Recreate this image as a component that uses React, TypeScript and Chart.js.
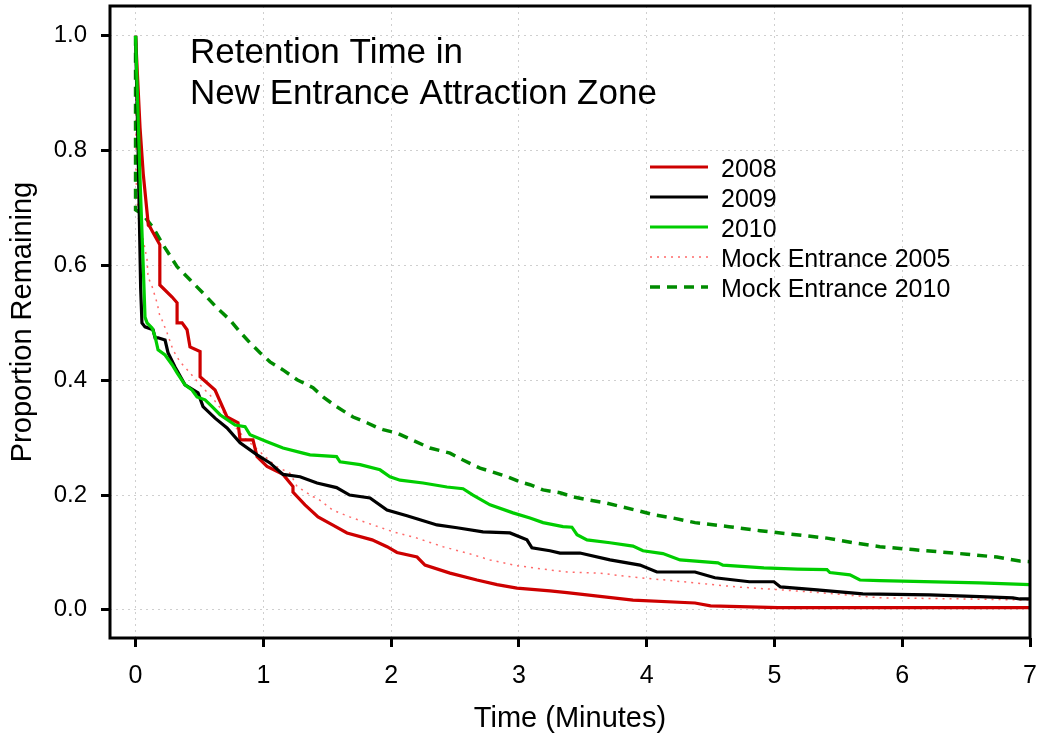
import React, { useEffect, useRef } from "react";
import { Chart, registerables } from "chart.js";

Chart.register(...registerables);

// ---- Data ----
const X_TICKS = [0, 1, 2, 3, 4, 5, 6, 7];
const Y_TICKS = [0, 0.2, 0.4, 0.6, 0.8, 1.0];
const TITLE_LINES = ["Retention Time in", "New Entrance Attraction Zone"];
const SERIES_LABELS = ["2008", "2009", "2010", "Mock Entrance 2005", "Mock Entrance 2010"];

const T_2008 = [0, 0.035, 0.06, 0.1, 0.113, 0.13, 0.19, 0.19, 0.286, 0.325, 0.325, 0.364, 0.403, 0.426, 0.505, 0.505, 0.622, 0.716, 0.802, 0.818, 0.919, 0.951, 1.029, 1.154, 1.232, 1.232, 1.326, 1.428, 1.541, 1.655, 1.851, 1.968, 2.046, 2.203, 2.265, 2.461, 2.672, 2.829, 2.985, 3.243, 3.376, 3.893, 4.378, 4.5, 5.03, 7];
const P_2008 = [1.0, 0.84, 0.76, 0.67, 0.667, 0.66, 0.636, 0.566, 0.545, 0.535, 0.5, 0.5, 0.488, 0.458, 0.45, 0.406, 0.383, 0.336, 0.326, 0.296, 0.296, 0.267, 0.25, 0.236, 0.215, 0.205, 0.183, 0.162, 0.148, 0.134, 0.122, 0.11, 0.1, 0.092, 0.078, 0.064, 0.052, 0.044, 0.038, 0.033, 0.03, 0.017, 0.012, 0.007, 0.004, 0.004];

const T_2009 = [0, 0.02, 0.04, 0.05, 0.074, 0.137, 0.153, 0.176, 0.231, 0.254, 0.309, 0.387, 0.489, 0.528, 0.622, 0.716, 0.818, 0.951, 1.052, 1.154, 1.287, 1.42, 1.573, 1.675, 1.835, 1.968, 2.124, 2.226, 2.359, 2.516, 2.719, 2.93, 3.063, 3.102, 3.243, 3.322, 3.478, 3.713, 3.948, 4.08, 4.378, 4.534, 4.804, 4.996, 5.047, 5.333, 5.692, 6.216, 6.608, 6.866, 6.92, 7];
const P_2009 = [1.0, 0.8, 0.56, 0.5, 0.493, 0.488, 0.474, 0.474, 0.47, 0.448, 0.423, 0.392, 0.378, 0.354, 0.334, 0.317, 0.291, 0.27, 0.256, 0.236, 0.232, 0.221, 0.213, 0.2, 0.195, 0.174, 0.164, 0.157, 0.148, 0.143, 0.136, 0.134, 0.122, 0.108, 0.103, 0.099, 0.099, 0.087, 0.078, 0.066, 0.066, 0.056, 0.049, 0.049, 0.04, 0.035, 0.028, 0.026, 0.023, 0.021, 0.019, 0.019];

const T_2010 = [0, 0.035, 0.06, 0.074, 0.09, 0.13, 0.153, 0.176, 0.231, 0.286, 0.325, 0.387, 0.442, 0.481, 0.544, 0.599, 0.661, 0.779, 0.857, 0.896, 1.029, 1.154, 1.311, 1.365, 1.573, 1.6, 1.757, 1.913, 1.991, 2.07, 2.25, 2.437, 2.563, 2.641, 2.774, 2.954, 3.087, 3.189, 3.345, 3.415, 3.455, 3.533, 3.713, 3.893, 3.971, 4.127, 4.261, 4.558, 4.597, 4.917, 5.18, 5.411, 5.434, 5.591, 5.669, 5.825, 6.608, 7];
const P_2010 = [1.0, 0.75, 0.6, 0.51, 0.5, 0.491, 0.476, 0.453, 0.444, 0.427, 0.413, 0.392, 0.383, 0.371, 0.366, 0.354, 0.34, 0.322, 0.319, 0.305, 0.293, 0.282, 0.273, 0.27, 0.267, 0.258, 0.253, 0.244, 0.232, 0.226, 0.221, 0.214, 0.211, 0.2, 0.183, 0.169, 0.16, 0.152, 0.145, 0.144, 0.131, 0.122, 0.117, 0.111, 0.103, 0.098, 0.087, 0.082, 0.078, 0.073, 0.071, 0.07, 0.065, 0.061, 0.052, 0.051, 0.047, 0.044];

const T_MOCK2005 = [0, 0.004, 0.02, 0.06, 0.09, 0.098, 0.13, 0.168, 0.192, 0.207, 0.246, 0.293, 0.348, 0.426, 0.505, 0.6, 0.739, 0.85, 1.0, 1.1, 1.209, 1.264, 1.389, 1.42, 1.541, 1.675, 1.858, 2.015, 2.203, 2.406, 2.594, 2.774, 2.985, 3.189, 3.376, 3.635, 3.893, 4.049, 4.378, 4.703, 5.047, 5.356, 5.825, 6.506, 7];
const P_MOCK2005 = [1.0, 0.75, 0.685, 0.645, 0.61, 0.58, 0.563, 0.535, 0.51, 0.505, 0.483, 0.453, 0.432, 0.413, 0.392, 0.37, 0.33, 0.3, 0.27, 0.25, 0.238, 0.215, 0.197, 0.195, 0.174, 0.162, 0.148, 0.136, 0.125, 0.11, 0.099, 0.087, 0.077, 0.071, 0.066, 0.064, 0.057, 0.054, 0.047, 0.04, 0.035, 0.03, 0.021, 0.019, 0.017];

const T_MOCK2010 = [0, 0, 0.06, 0.137, 0.192, 0.215, 0.325, 0.426, 0.528, 0.638, 0.739, 0.818, 0.896, 0.974, 1.052, 1.154, 1.264, 1.389, 1.467, 1.573, 1.702, 1.811, 1.898, 1.937, 2.046, 2.124, 2.304, 2.461, 2.563, 2.696, 2.797, 2.907, 3.009, 3.087, 3.189, 3.322, 3.423, 3.533, 3.689, 3.815, 3.948, 4.049, 4.206, 4.378, 4.644, 4.886, 5.047, 5.411, 5.614, 5.825, 6.083, 6.295, 6.506, 6.741, 6.92, 7];
const P_MOCK2010 = [1.0, 0.697, 0.688, 0.666, 0.645, 0.636, 0.598, 0.575, 0.552, 0.526, 0.505, 0.484, 0.465, 0.448, 0.432, 0.418, 0.401, 0.387, 0.371, 0.354, 0.336, 0.326, 0.317, 0.314, 0.308, 0.3, 0.282, 0.273, 0.261, 0.247, 0.24, 0.232, 0.223, 0.218, 0.209, 0.204, 0.197, 0.192, 0.186, 0.179, 0.172, 0.166, 0.16, 0.152, 0.145, 0.138, 0.134, 0.125, 0.117, 0.11, 0.105, 0.101, 0.097, 0.092, 0.085, 0.084];

const FONT = "'Liberation Sans', Arial, Helvetica, sans-serif";

const toPoints = (t: number[], p: number[]) => t.map((x, i) => ({ x, y: p[i] }));

const framePlugin = {
  id: "frameAndAnnotations",
  afterDatasetsDraw(chart: any) {
    const { ctx, chartArea } = chart;
    ctx.save();
    ctx.strokeStyle = "#000";
    ctx.lineWidth = 3;
    ctx.setLineDash([]);
    ctx.strokeRect(chartArea.left, chartArea.top, chartArea.right - chartArea.left, chartArea.bottom - chartArea.top);
    ctx.restore();
  },
  afterDraw(chart: any) {
    const { ctx } = chart;
    ctx.save();
    // title inside plot
    ctx.fillStyle = "#000";
    ctx.font = `35px ${FONT}`;
    ctx.textAlign = "left";
    ctx.textBaseline = "alphabetic";
    ctx.fillText(TITLE_LINES[0], 190, 63);
    ctx.fillText(TITLE_LINES[1], 190, 104);
    // legend
    ctx.font = `25px ${FONT}`;
    chart.data.datasets.forEach((ds: any, i: number) => {
      const base = 177 + i * 30;
      const ly = base - 10;
      ctx.save();
      ctx.strokeStyle = ds.borderColor;
      ctx.lineWidth = ds.borderWidth;
      ctx.setLineDash(ds.borderDash || []);
      ctx.beginPath();
      ctx.moveTo(650, ly);
      ctx.lineTo(708, ly);
      ctx.stroke();
      ctx.restore();
      ctx.fillStyle = "#000";
      ctx.fillText(ds.label, 721, base);
    });
    ctx.restore();
  },
};

export default function App() {
  const canvasRef = useRef<HTMLCanvasElement | null>(null);

  useEffect(() => {
    const canvas = canvasRef.current;
    if (!canvas) return;
    const datasets = [
      { label: SERIES_LABELS[0], data: toPoints(T_2008, P_2008), borderColor: "#CD0000", borderWidth: 3.2, borderDash: [], order: 3 },
      { label: SERIES_LABELS[1], data: toPoints(T_2009, P_2009), borderColor: "#000000", borderWidth: 3.2, borderDash: [], order: 2 },
      { label: SERIES_LABELS[2], data: toPoints(T_2010, P_2010), borderColor: "#00CD00", borderWidth: 3.2, borderDash: [], order: 1 },
      { label: SERIES_LABELS[3], data: toPoints(T_MOCK2005, P_MOCK2005), borderColor: "#FF6A6A", borderWidth: 1.5, borderDash: [2, 5], order: 5 },
      { label: SERIES_LABELS[4], data: toPoints(T_MOCK2010, P_MOCK2010), borderColor: "#008B00", borderWidth: 3.5, borderDash: [10, 7], order: 4 },
    ].map((d) => ({ ...d, pointRadius: 0, pointHoverRadius: 0, tension: 0, fill: false, backgroundColor: d.borderColor }));

    const chart = new Chart(canvas, {
      type: "line",
      data: { datasets: datasets as any },
      plugins: [framePlugin],
      options: {
        animation: false,
        responsive: false,
        devicePixelRatio: 1,
        events: [],
        layout: { padding: { top: 6, right: 9, bottom: 0, left: 0 } },
        plugins: { legend: { display: false }, tooltip: { enabled: false }, title: { display: false } },
        scales: {
          x: {
            type: "linear",
            min: -0.2,
            max: 7,
            afterBuildTicks: (scale: any) => {
              scale.ticks = X_TICKS.map((v) => ({ value: v }));
            },
            afterFit: (scale: any) => {
              scale.height = 100;
              scale.paddingLeft = 0;
              scale.paddingRight = 0;
              scale.paddingTop = 0;
              scale.paddingBottom = 0;
            },
            border: { display: false, dash: [2, 4] },
            grid: {
              color: "#cfcfcf",
              lineWidth: 1,
              drawTicks: true,
              tickLength: 9,
              tickWidth: 3,
              tickColor: "#000",
              tickBorderDash: [],
            },
            ticks: {
              autoSkip: false,
              maxRotation: 0,
              padding: 14,
              color: "#000",
              font: { family: FONT, size: 25 },
              callback: (v: any) => String(v),
            },
            title: {
              display: true,
              text: "Time (Minutes)",
              color: "#000",
              font: { family: FONT, size: 29 },
              padding: { top: 0, bottom: 2 },
            },
          },
          y: {
            type: "linear",
            min: -0.049,
            max: 1.052,
            afterBuildTicks: (scale: any) => {
              scale.ticks = Y_TICKS.map((v) => ({ value: v }));
            },
            afterFit: (scale: any) => {
              scale.width = 110;
              scale.paddingLeft = 0;
              scale.paddingRight = 0;
              scale.paddingTop = 0;
              scale.paddingBottom = 0;
            },
            border: { display: false, dash: [2, 4] },
            grid: {
              color: "#cfcfcf",
              lineWidth: 1,
              drawTicks: true,
              tickLength: 9,
              tickWidth: 3,
              tickColor: "#000",
              tickBorderDash: [],
            },
            ticks: {
              autoSkip: false,
              padding: 14,
              color: "#000",
              font: { family: FONT, size: 24 },
              callback: (v: any) => Number(v).toFixed(1),
            },
            title: {
              display: true,
              text: "Proportion Remaining",
              color: "#000",
              font: { family: FONT, size: 29 },
              padding: { top: 6, bottom: 0 },
            },
          },
        },
      } as any,
    });
    return () => chart.destroy();
  }, []);

  return (
    <div style={{ position: "absolute", left: 0, top: 0, width: 1039, height: 738, background: "#fff" }}>
      <canvas ref={canvasRef} width={1039} height={738} style={{ display: "block", width: 1039, height: 738 }} />
    </div>
  );
}
